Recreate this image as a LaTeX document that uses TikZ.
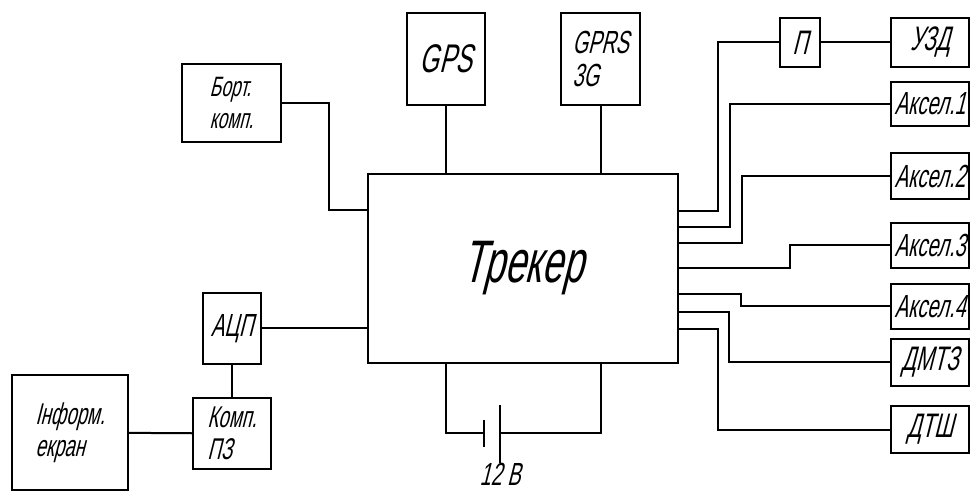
\documentclass[tikz,border=0pt]{standalone}
\usepackage{fontspec}
\newfontfamily\gost[FakeStretch=0.62,FakeSlant=0.25]{Liberation Sans}
\tikzset{
  blk/.style={draw,rectangle,inner sep=0pt,align=left},
  fsz/.style={font={\gost\fontsize{#1}{#1}\selectfont}}
}
\begin{document}
\begin{tikzpicture}[x=0.5pt,y=-0.5pt,line width=1pt]
        \useasboundingbox (0,0) rectangle (971,492);
        % tracker and the units round it
        \node[blk,minimum width=155pt,minimum height=94.5pt,fsz=30] (Tr) at (523,268.5){Трекер};
        \node[blk,minimum width=49.5pt,minimum height=39pt,font={\gost\fontsize{14}{16}\selectfont}] (B) at (231.5,103){Борт.\\комп.};
        \node[blk,minimum width=39pt,minimum height=46pt,fsz=20] (G) at (446,59){GPS};
        \node[blk,minimum width=39.5pt,minimum height=46pt,font={\gost\fontsize{16}{16.5}\selectfont}] (GR) at (600.5,59){GPRS\\3G};
        \node[blk,minimum width=20pt,minimum height=24.5pt,fsz=17] (P) at (800,42.5){П};
        \node[blk,minimum width=39pt,minimum height=24.5pt,fsz=17] (U) at (930,42.5){УЗД};
        \node[blk,minimum width=39pt,minimum height=22pt,fsz=16] (A1) at (930,104){Аксел.1};
        \node[blk,minimum width=39pt,minimum height=23pt,fsz=16] (A2) at (930,176){Аксел.2};
        \node[blk,minimum width=39pt,minimum height=22.5pt,fsz=16] (A3) at (930,245.5){Аксел.3};
        \node[blk,minimum width=39pt,minimum height=22.5pt,fsz=16] (A4) at (930,306.5){Аксел.4};
        \node[blk,minimum width=39pt,minimum height=23.5pt,fsz=17] (D1) at (930,362.5){ДМТЗ};
        \node[blk,minimum width=39pt,minimum height=23.5pt,fsz=17] (D2) at (930,429.5){ДТШ};
        \node[blk,minimum width=29pt,minimum height=35.5pt,fsz=16] (ADC) at (232,328.5){АЦП};
        \node[blk,minimum width=39pt,minimum height=35.5pt,font={\gost\fontsize{15}{16}\selectfont}] (K) at (232,433.5){Комп.\\ПЗ};
        \node[blk,minimum width=58pt,minimum height=57.5pt,font={\gost\fontsize{15}{16}\selectfont}] (I) at (70,432.5){Інформ.\\екран};
        % links
        \draw (B.east) -| (329,210) -- (Tr.west |- 0,210);
        \draw (G) -- (G |- Tr.north);
        \draw (GR) -- (GR |- Tr.north);
        \draw (ADC) -- (ADC -| Tr.west);
        \draw (ADC) -- (K);
        \draw (I) -- (K);
        \draw (P) -- (U);
        \draw (Tr.east |- 0,211) -- (718,211) |- (P.west);
        \draw (Tr.east |- 0,227) -- (730,227) |- (A1.west);
        \draw (Tr.east |- 0,243) -- (742,243) |- (A2.west);
        \draw (Tr.east |- 0,268) -- (790,268) |- (A3.west);
        \draw (Tr.east |- 0,294) -- (741,294) |- (A4.west);
        \draw (Tr.east |- 0,312) -- (729,312) |- (D1.west);
        \draw (Tr.east |- 0,329) -- (718,329) |- (D2.west);
        % battery
        \coordinate (bL) at (446,433);
        \coordinate (bR) at (601,433);
        \draw (bL |- Tr.south) -- (bL) -- (484,433);
        \draw (484,420) -- (484,447);
        \draw (500,405) -- (500,463);
        \draw (500,433) -- (bR) -- (bR |- Tr.south);
        \node[inner sep=0pt,fsz=16] (V) at (500,474){12 В};
\end{tikzpicture}
\end{document}
